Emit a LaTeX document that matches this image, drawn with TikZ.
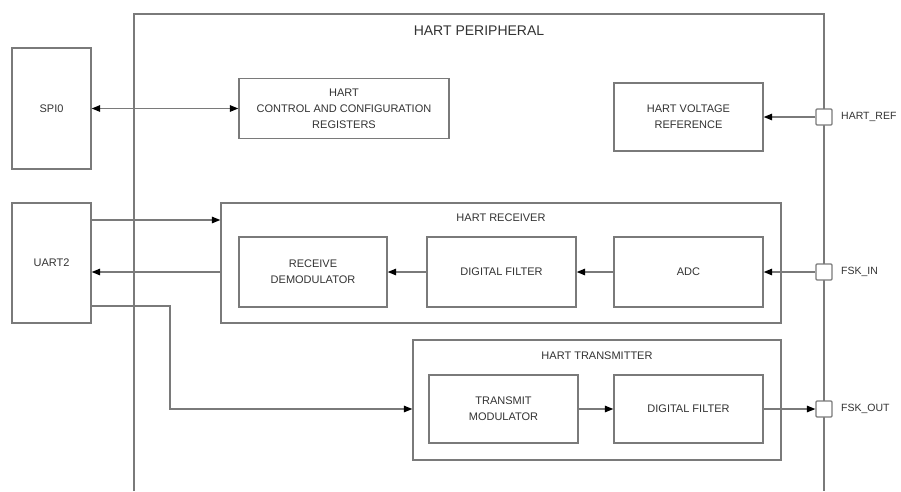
\documentclass[tikz,border=0pt]{standalone}
\usepackage{fontspec}
\setmainfont{Liberation Sans}
\usetikzlibrary{arrows.meta}
\definecolor{linegray}{HTML}{7A7A7A}
\definecolor{txtgray}{HTML}{333333}
\begin{document}
\begin{tikzpicture}[x=1pt,y=-1pt,
  blk/.style={draw=linegray,line width=1.3pt,rectangle,inner sep=0pt,align=center,
    text=txtgray,font=\fontsize{11}{16}\selectfont},
  pin/.style={draw=linegray,line width=1.2pt,fill=white,rectangle,rounded corners=1pt,
    minimum size=16pt,inner sep=0pt},
  lbl/.style={text=txtgray,font=\fontsize{11}{13}\selectfont,inner sep=0pt},
  plbl/.style={text=txtgray,font=\fontsize{10.5}{13}\selectfont,inner sep=0pt,anchor=west},
  conn/.style={draw=linegray,line width=1.3pt},
  arr/.style={conn,-{Triangle[length=8.5pt,width=6.5pt,color=black]}},
  darr/.style={conn,{Triangle[length=8.5pt,width=6.5pt,color=black]}-{Triangle[length=8.5pt,width=6.5pt,color=black]}}
]
\useasboundingbox (0,0) rectangle (901,491);
\fill[white] (0,0) rectangle (901,491);
% main peripheral outline (open at bottom)
\draw[conn] (134,491) -- (134,14) -- (824,14) -- (824,491);
\node[lbl,font=\fontsize{14}{16}\selectfont] (title) at (479,31) {HART PERIPHERAL};

% external blocks
\node[blk,minimum width=79pt,minimum height=121pt] (spi) at (51.5,108.5) {SPI0};
\node[blk,minimum width=79pt,minimum height=120pt] (uart) at (51.5,263) {UART2};

% control registers & voltage reference
\node[blk,minimum width=210pt,minimum height=60pt] (ctrl) at (344,108.5) {HART\\CONTROL AND CONFIGURATION\\REGISTERS};
\node[blk,minimum width=149pt,minimum height=68pt] (vref) at (688.5,117) {HART VOLTAGE\\REFERENCE};

% receiver
\node[blk,minimum width=560pt,minimum height=120pt] (rx) at (501,263) {};
\node[lbl] (rxl) at (501,218) {HART RECEIVER};
\node[blk,minimum width=148pt,minimum height=70pt] (rd) at (313,272) {RECEIVE\\DEMODULATOR};
\node[blk,minimum width=149pt,minimum height=70pt] (rdf) at (501.5,272) {DIGITAL FILTER};
\node[blk,minimum width=149pt,minimum height=70pt] (adc) at (688.5,272) {ADC};

% transmitter
\node[blk,minimum width=368pt,minimum height=120pt] (tx) at (597,400) {};
\node[lbl] (txl) at (597,356) {HART TRANSMITTER};
\node[blk,minimum width=149pt,minimum height=68pt] (tm) at (503.5,409) {TRANSMIT\\MODULATOR};
\node[blk,minimum width=149pt,minimum height=68pt] (tdf) at (688.5,409) {DIGITAL FILTER};

% pins
\node[pin] (pref) at (824,117) {};
\node[pin] (pin) at (824,272) {};
\node[pin] (pout) at (824,409) {};
\node[plbl] (lref) at (841,117) {HART\_REF};
\node[plbl] (lin) at (841,272) {FSK\_IN};
\node[plbl] (lout) at (841,409) {FSK\_OUT};

% connectors
\draw[darr] (spi.east |- ctrl.west) -- (ctrl.west);
\draw[arr] (pref) -- (vref.east |- pref);
\draw[arr] (uart.east |- 0,220) -- (rx.west |- 0,220);
\draw[arr] (rx.west |- 0,272) -- (uart.east |- 0,272);
\draw[arr] (pin) -- (adc.east |- pin);
\draw[arr] (adc) -- (rdf);
\draw[arr] (rdf) -- (rd);
\coordinate (bend1) at (170,306);
\coordinate (bend2) at (170,409);
\draw[arr] (uart.east |- bend1) -- (bend1) -- (bend2) -- (tx.west |- bend2);
\draw[arr] (tm) -- (tdf);
\draw[arr] (tdf) -- (pout);
\end{tikzpicture}
\end{document}
